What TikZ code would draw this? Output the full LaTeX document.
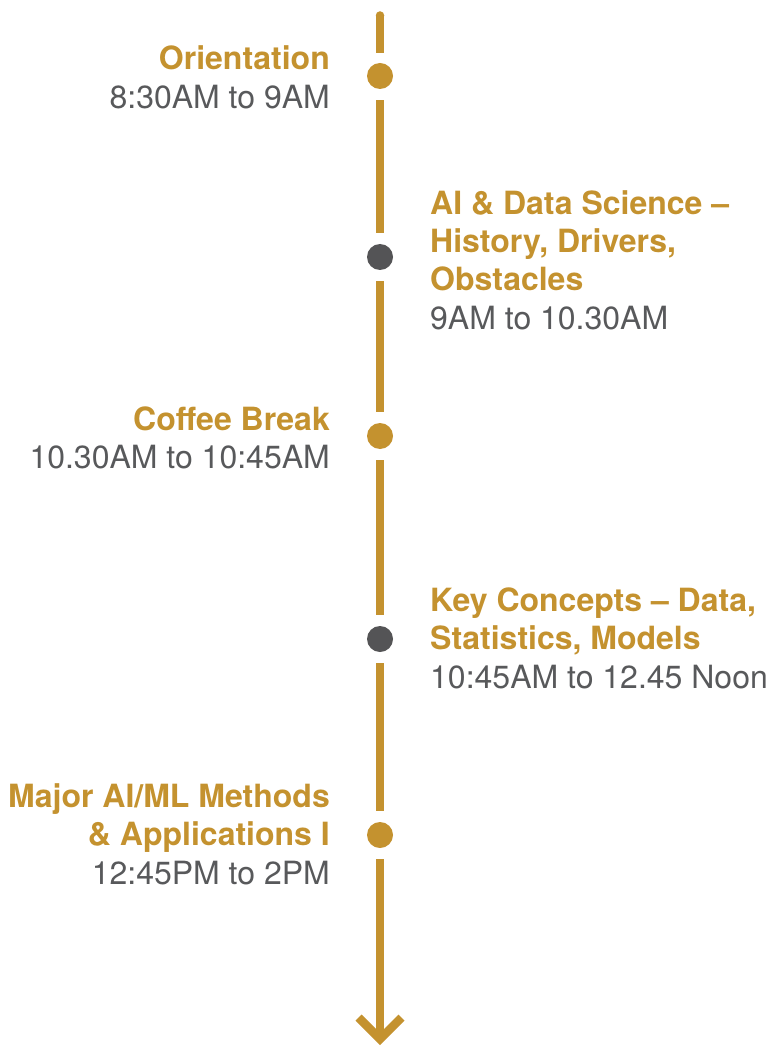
\documentclass[tikz,border=0pt]{standalone}
\usepackage{fontspec}
\setmainfont{TeX Gyre Heros}
\definecolor{gold}{HTML}{C4922F}
\definecolor{dotgray}{HTML}{545456}
\definecolor{timegray}{HTML}{58595B}
\begin{document}
\begin{tikzpicture}[x=1pt,y=-1pt,
  txt/.style={inner sep=0pt, font=\fontsize{32}{38}\selectfont},
  ttl/.style={txt, text=gold, font=\fontsize{32}{38}\selectfont\bfseries},
  tim/.style={txt, text=timegray},
  lft/.style={anchor=base east, yshift=-2.5pt},
  rgt/.style={anchor=base west, yshift=-2.5pt},
  golddot/.style={circle, fill=gold, minimum size=26pt, inner sep=0pt},
  graydot/.style={circle, fill=dotgray, minimum size=26pt, inner sep=0pt},
  axis/.style={draw=gold, line width=8.5pt},
]
\useasboundingbox (0,0) rectangle (776,1048);

% dots
\node[golddot] (d1) at (380,76) {};
\node[graydot] (d2) at (380,257) {};
\node[golddot] (d3) at (380,436) {};
\node[graydot] (d4) at (380,639) {};
\node[golddot] (d5) at (380,835) {};
\coordinate (top) at (380,15.5);
\coordinate (tip) at (380,1039);
\coordinate (armL) at (358.5,1017.5);
\coordinate (armR) at (401.5,1017.5);

% axis segments
\fill[gold] (top) circle (4.25pt);
\draw[axis, shorten >=10pt] (top) -- (d1);
\draw[axis, shorten <=11pt, shorten >=11pt] (d1) -- (d2);
\draw[axis, shorten <=11pt, shorten >=11pt] (d2) -- (d3);
\draw[axis, shorten <=11pt, shorten >=11pt] (d3) -- (d4);
\draw[axis, shorten <=11pt, shorten >=11pt] (d4) -- (d5);
\draw[axis, shorten <=11pt] (d5) -- (tip);
\draw[axis, line join=miter] (armL) -- (tip) -- (armR);

% event 1
\node[ttl, lft] (e1a) at (330,67) {Orientation};
\node[tim, lft] (e1t) at (330,106) {8:30AM to 9AM};
% event 2
\node[ttl, rgt] (e2a) at (430,212) {AI \& Data Science –};
\node[ttl, rgt] (e2b) at (430,250) {History, Drivers,};
\node[ttl, rgt] (e2c) at (430,288) {Obstacles};
\node[tim, rgt] (e2t) at (430,327) {9AM to 10.30AM};
% event 3
\node[ttl, lft] (e3a) at (330,428) {Coffee Break};
\node[tim, lft] (e3t) at (330,466) {10.30AM to 10:45AM};
% event 4
\node[ttl, rgt] (e4a) at (430,609) {Key Concepts – Data,};
\node[ttl, rgt] (e4b) at (430,647) {Statistics, Models};
\node[tim, rgt] (e4t) at (430,686) {10:45AM to 12.45 Noon};
% event 5
\node[ttl, lft] (e5a) at (330,805) {Major AI/ML Methods};
\node[ttl, lft] (e5b) at (330,843) {\& Applications I};
\node[tim, lft] (e5t) at (330,882) {12:45PM to 2PM};
\end{tikzpicture}
\end{document}
